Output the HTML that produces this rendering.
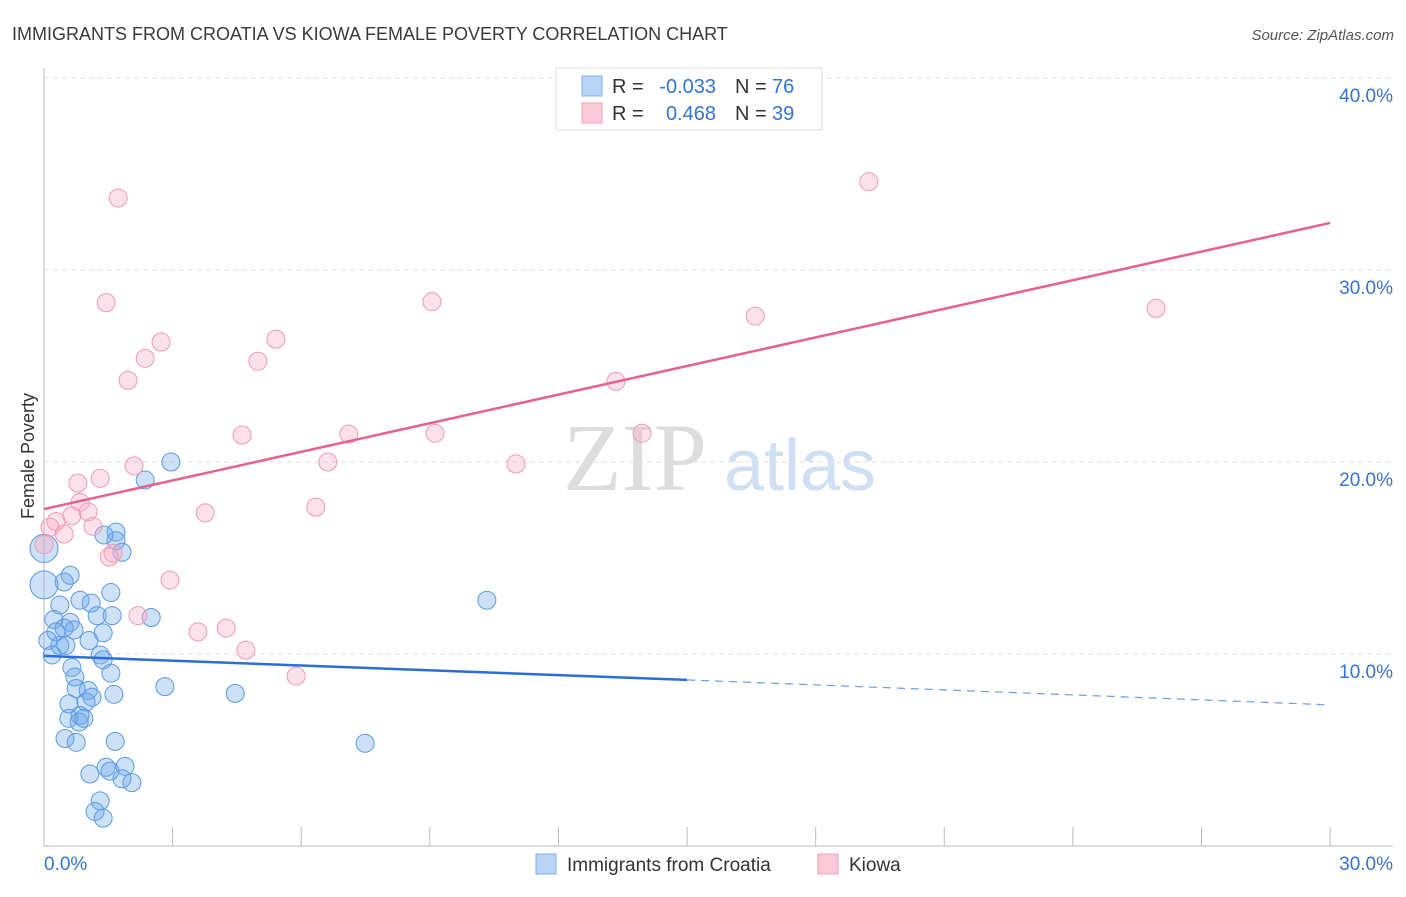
<!DOCTYPE html>
<html><head><meta charset="utf-8"><style>
body{margin:0;background:#fff;font-family:"Liberation Sans",sans-serif}
</style></head><body>
<svg width="1406" height="892" xmlns="http://www.w3.org/2000/svg">
<text x="12" y="40" font-size="18" fill="#3a3a3a">IMMIGRANTS FROM CROATIA VS KIOWA FEMALE POVERTY CORRELATION CHART</text>
<text x="1394" y="40" font-size="15" fill="#555" text-anchor="end" font-style="italic">Source: ZipAtlas.com</text>
<g><text x="635" y="490" font-size="96" fill="#ddd" text-anchor="middle" font-family="Liberation Serif,serif">ZIP</text><text x="800" y="490" font-size="72" fill="#cfe0f5" text-anchor="middle">atlas</text></g>
<g id="grid"></g><g id="axes"></g><g id="pts"></g><g id="lines"></g>
<text transform="translate(34,456) rotate(-90)" font-size="18" fill="#333" text-anchor="middle">Female Poverty</text>
<g>
<rect x="556" y="68" width="266" height="62" fill="#fff" stroke="#ddd"/>
<rect x="582" y="76" width="20" height="20" fill="#b9d4f5" stroke="#7fb0ea"/>
<rect x="582" y="103" width="20" height="20" fill="#fbc9d7" stroke="#f0a3ba"/>
<text x="612" y="93" font-size="20" fill="#333">R =</text>
<text x="716" y="93" font-size="20" fill="#3574d4" text-anchor="end">-0.033</text>
<text x="735" y="93" font-size="20" fill="#333">N =</text>
<text x="772" y="93" font-size="20" fill="#3574d4">76</text>
<text x="612" y="120" font-size="20" fill="#333">R =</text>
<text x="716" y="120" font-size="20" fill="#3574d4" text-anchor="end">0.468</text>
<text x="735" y="120" font-size="20" fill="#333">N =</text>
<text x="772" y="120" font-size="20" fill="#3574d4">39</text>
</g>
<g>
<rect x="536" y="854" width="20" height="20" fill="#b9d4f5" stroke="#7fb0ea"/>
<text x="567" y="871" font-size="19" fill="#333">Immigrants from Croatia</text>
<rect x="818" y="854" width="20" height="20" fill="#fbc9d7" stroke="#f0a3ba"/>
<text x="849" y="871" font-size="19" fill="#333">Kiowa</text>
</g>
</svg>
<script>
const yTicks=[10,20,30,40];
const yTickLabels=["10.0%","20.0%","30.0%","40.0%"];
const xTickLabels=["0.0%","30.0%"];
const croatiaX=[2.96,2.36,1.68,1.68,1.82,1.40,0,0,0.61,0.47,0.37,0.84,1.10,1.56,1.24,1.59,2.50,10.33,0.23,0.61,0.47,0.70,0.28,0.09,0.37,1.05,1.38,0.51,0.19,1.31,1.38,1.56,0.65,0.72,0.75,1.03,1.12,1.63,2.82,4.46,0.58,0.98,0.84,0.58,0.82,0.93,0.49,0.75,1.66,7.49,1.07,1.45,1.54,1.89,1.82,2.05,1.31,1.19,1.38];
const croatiaY=[20.0,19.06,16.35,15.9,15.3,16.2,15.5,13.6,14.1,13.75,12.55,12.8,12.65,13.2,12.0,12.0,11.9,12.8,11.8,11.65,11.35,11.25,11.15,10.7,10.45,10.7,11.1,10.45,9.95,9.95,9.7,9.0,9.3,8.8,8.2,8.1,7.75,7.9,8.3,7.95,7.4,7.5,6.8,6.65,6.45,6.65,5.6,5.4,5.45,5.35,3.75,4.1,3.9,4.15,3.5,3.3,2.35,1.8,1.45];
const kiowaX=[1.73,19.24,1.45,9.05,25.94,16.59,2.73,5.41,2.36,4.99,1.96,13.34,4.62,7.11,9.12,13.95,6.62,11.01,2.1,1.31,0.79,0.84,1.03,0.65,3.76,6.34,0.28,0.14,1.14,0.47,0,1.61,1.52,2.94,2.19,4.25,3.59,4.71,5.88];
const kiowaY=[33.75,34.6,28.3,28.35,28.0,27.6,26.25,26.4,25.4,25.25,24.25,24.2,21.4,21.45,21.5,21.5,20.0,19.9,19.8,19.15,18.9,17.9,17.4,17.2,17.35,17.65,16.9,16.6,16.65,16.25,15.7,15.25,15.05,13.85,12.0,11.35,11.15,10.2,8.85];
const croatiaTrend=[9.9,8.65,7.35];
const kiowaTrend=[17.55,32.45];
const NS="http://www.w3.org/2000/svg";
const sx=v=>44+v*42.87, sy=v=>846-v*19.2;
function mk(t,a,p){const e=document.createElementNS(NS,t);for(const k in a)e.setAttribute(k,a[k]);p.appendChild(e);return e;}
const grid=document.getElementById('grid'),axes=document.getElementById('axes'),pts=document.getElementById('pts'),lines=document.getElementById('lines');
yTicks.forEach((t,i)=>{
 const l=mk('line',{x1:44,x2:1393,y1:sy(t),y2:sy(t),stroke:'#ddd','stroke-dasharray':'5,4'},grid);
 
 
 const tx=mk('text',{x:1393,y:sy(t)+24,'font-size':19,fill:'#3574d4','text-anchor':'end'},grid);
 tx.textContent=yTickLabels[i];
 
 
});
const ya=mk('line',{x1:44,x2:44,y1:68,y2:846,stroke:'#bbb'},axes);


const xa=mk('line',{x1:44,x2:1393,y1:846,y2:846,stroke:'#bbb'},axes);


for(let i=0;i<=10;i++){const t=mk('line',{x1:sx(i*3),x2:sx(i*3),y1:827,y2:846,stroke:'#bbb'},axes);
 
 }
[[44,'start'],[1393,'end']].forEach((d,i)=>{const t=mk('text',{x:d[0],y:870,'font-size':19,fill:'#3574d4','text-anchor':d[1]},axes);t.textContent=xTickLabels[i];
 
 });
croatiaX.forEach((x,i)=>{const r=(x===0)?14:9;const c=mk('circle',{cx:sx(x),cy:sy(croatiaY[i]),r:r,fill:'rgba(110,165,235,0.35)',stroke:'#5b9ae3','stroke-width':1},pts);
 
 });
kiowaX.forEach((x,i)=>{const c=mk('circle',{cx:sx(x),cy:sy(kiowaY[i]),r:9,fill:'rgba(248,170,195,0.35)',stroke:'#ee9ab4','stroke-width':1},pts);
 
 });
const l1=mk('line',{x1:sx(0),y1:sy(kiowaTrend[0]),x2:sx(30),y2:sy(kiowaTrend[1]),stroke:'#e8608c','stroke-width':2.5},lines);


const l2=mk('line',{x1:sx(0),y1:sy(croatiaTrend[0]),x2:sx(15),y2:sy(croatiaTrend[1]),stroke:'#2a6fd6','stroke-width':2.5},lines);


const l3=mk('line',{x1:sx(15),y1:sy(croatiaTrend[1]),x2:sx(30),y2:sy(croatiaTrend[2]),stroke:'#6a9ee0','stroke-width':1.2,'stroke-dasharray':'8,6'},lines);


</script>
</body></html>
